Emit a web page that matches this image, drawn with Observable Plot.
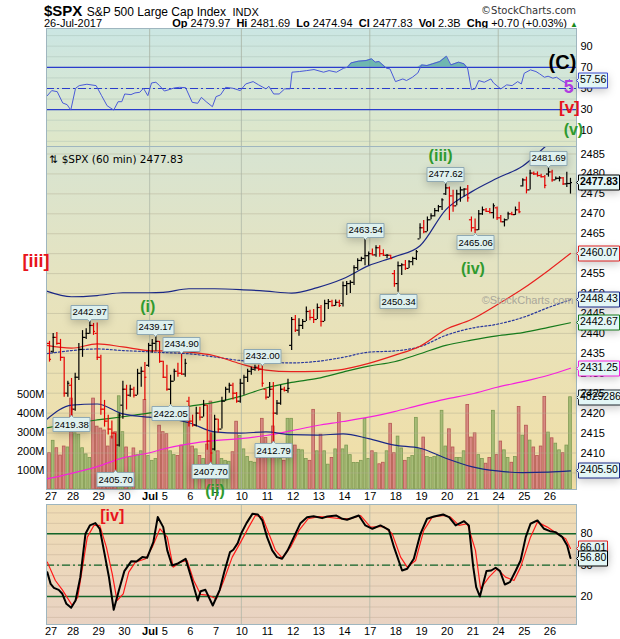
<!DOCTYPE html>
<html>
<head>
<meta charset="utf-8">
<script src="https://cdn.jsdelivr.net/npm/d3@7"></script>
<script src="https://cdn.jsdelivr.net/npm/@observablehq/plot@0.6"></script>
<style>
  html, body { margin: 0; padding: 0; background: #fff; }
  body { width: 620px; height: 639px; position: relative; overflow: hidden;
         font-family: Arial, "Liberation Sans", sans-serif; color: #000; }
  .abs { position: absolute; }
  .bg { position: absolute; left: 46px; width: 530px; }
  #hdr1 { top: 2px; left: 44px; white-space: nowrap; }
  #hdr2 { top: 17px; left: 44px; font-size: 11px; white-space: nowrap; }
  #ohlc { top: 17px; right: 42px; font-size: 11px; white-space: nowrap; }
  #brand { top: 5px; right: 44px; font-size: 10px; font-family: "DejaVu Sans", sans-serif; color: #333; }
  b { font-weight: bold; }
</style>
</head>
<body>
<div id="hdr1" class="abs"><span style="font-size:15px;font-weight:bold">$SPX</span>
  <span style="font-size:12px">S&amp;P 500 Large Cap Index</span>
  <span style="font-size:11px;margin-left:2px">INDX</span></div>
<div id="brand" class="abs">©StockCharts.com</div>
<div id="hdr2" class="abs">26-Jul-2017</div>
<div id="ohlc" class="abs"></div>

<div class="bg" style="top:28px;height:118px;background:linear-gradient(#cbe6e3,#dfe7c8)"></div>
<div class="bg" style="top:146px;height:343px;background:linear-gradient(#d7e4d2 0%,#e6e3bf 40%,#f1dea5 100%)"></div>
<div class="bg" style="top:504px;height:120px;background:linear-gradient(#efdcb4,#e9d3c3)"></div>

<div id="rsi" class="abs" style="left:0;top:28px"></div>
<div id="vol" class="abs" style="left:0;top:146px"></div>
<div id="price" class="abs" style="left:0;top:146px"></div>
<div id="sto" class="abs" style="left:0;top:504px"></div>

<script>
// ---- 60-minute bars, 27 Jun – 26 Jul 2017: [open, high, low, close]
const ohlc = [
  // Jun 27
  [2437.5,2438,2432.8,2433.5],[2435.5,2440,2435,2439],[2439,2440.2,2437,2437.5],[2437.5,2438.5,2433,2434],
  [2434,2434,2424,2425],[2425,2428,2424,2427.5],
  // Jun 28
  [2427,2428.7,2419.38,2421],[2421,2430,2420.5,2429],[2429,2437.5,2428.2,2436],[2436,2440.7,2434,2439],
  [2439,2441.2,2438.5,2440],[2440,2442.97,2439.8,2442],[2442,2442.5,2439.5,2440.5],
  // Jun 29
  [2440,2442.6,2433.2,2434],[2434,2434.5,2419.5,2421],[2421,2423.2,2416.5,2418],[2418,2419.5,2414.5,2416],
  [2416,2418,2413.5,2415],[2415,2415,2405.7,2412],[2412,2420,2411.5,2419.5],
  // Jun 30
  [2422,2428,2418.5,2426],[2426,2427,2420.8,2424.5],[2424.5,2427,2424,2426],[2426,2426.5,2423.8,2424.5],
  [2424.5,2431,2424.5,2430],[2430,2431.5,2426.5,2430.5],[2430.5,2432.7,2423.2,2429],
  // Jul 3 (half session)
  [2432,2437.5,2431.5,2437],[2437,2438.5,2435,2437.5],[2437.5,2439.17,2435.5,2438],[2438,2438,2432.5,2433],
  // Jul 5
  [2433,2433,2428.7,2429],[2429,2432,2425.5,2426],[2426,2429.5,2422.05,2428],[2428,2431,2428,2430.5],
  [2430.5,2432.5,2429,2430],[2430,2434.9,2429.5,2429.8],[2429.8,2433.5,2429,2432.5],
  // Jul 6
  [2423,2424,2416.5,2418],[2418,2419.5,2416.5,2417],[2417,2421.5,2416.5,2420],[2420,2421.5,2418,2419],
  [2419,2423.2,2419,2422],[2422,2422,2410.7,2413],[2413,2415,2407.7,2410],
  // Jul 7
  [2411,2419.5,2410.5,2418.5],[2418.5,2418.5,2415,2416],[2416,2424,2416,2423],[2423,2426.5,2423,2426],
  [2426,2427.5,2425,2427],[2427,2427.5,2423.3,2425],[2425,2425.2,2422.5,2423],
  // Jul 10
  [2423,2428.5,2422.5,2427.5],[2427.5,2429.5,2424.5,2429],[2429,2431,2427.7,2430.5],[2430.5,2431.5,2429.5,2431],
  [2431,2432,2430.5,2431.5],[2431.5,2432,2430.5,2431],[2431,2432,2426.5,2427.5],
  // Jul 11
  [2426,2426,2423.3,2424],[2424,2427.7,2424,2426],[2426,2427.7,2412.79,2420],[2420,2423.2,2419.5,2422.5],
  [2422.5,2427,2422,2426],[2426,2426.5,2425.3,2425.7],[2425.7,2428.5,2425,2426.2],
  // Jul 12
  [2437,2444,2435.7,2443.5],[2443.5,2444.5,2440.2,2440.8],[2440.8,2443.7,2439.3,2442],[2442,2443.5,2441,2443],
  [2443,2446.6,2443,2445.5],[2445.5,2445.8,2443.2,2444],[2444,2446,2442.5,2443.5],
  // Jul 13
  [2443.5,2447.4,2443.5,2446.5],[2446.5,2447,2441.6,2443],[2443,2448.3,2443,2447.5],[2447.5,2448.5,2446,2448],
  [2448,2448.3,2446.6,2447],[2447,2448.4,2446.8,2447.8],[2447.8,2448.3,2446.5,2447],
  // Jul 14
  [2447.5,2452.9,2446.6,2452],[2452,2453,2449.5,2452.5],[2452.5,2453.2,2450,2452.8],[2452.8,2457,2452,2456.5],
  [2456.5,2458.7,2455.8,2458.3],[2458.3,2459.1,2458,2458.8],[2458.8,2463.54,2457,2459.5],
  // Jul 17
  [2459.5,2460.4,2457,2460],[2460,2461.2,2459.5,2459.7],[2459.7,2462,2459.1,2461.5],[2461.5,2462,2459.1,2460],
  [2460,2461,2459.3,2459.6],[2459.6,2459.8,2458.7,2459.6],[2459.6,2459.6,2458.5,2458.8],
  // Jul 18
  [2455,2455.8,2451.6,2452.5],[2452.5,2457.9,2450.34,2457],[2457,2457.5,2454.5,2457.2],[2457.2,2458.3,2455.8,2456.3],
  [2456.3,2458.3,2456.3,2458],[2458,2459.1,2457,2458.8],[2458.8,2460.8,2458.3,2460.5],
  // Jul 19
  [2463.7,2467.5,2463.7,2466.5],[2466.5,2468.3,2465,2465.5],[2465.5,2469.2,2465.5,2468.5],[2468.5,2470,2468.5,2469.5],
  [2469.5,2471.3,2469.2,2470.8],[2470.8,2472.1,2470.4,2471.8],[2471.8,2473.8,2470.8,2473.5],
  // Jul 20
  [2475,2477.62,2474.6,2476.5],[2476.5,2476.7,2468.3,2474.5],[2474.5,2475.9,2470.4,2472],[2472,2475.9,2472,2475],
  [2475,2476.7,2472.9,2476],[2476,2476.3,2474.2,2476.2],[2476.2,2477.1,2472.9,2474],
  // Jul 21
  [2468.5,2469.2,2465.4,2466.5],[2466.5,2468.7,2465.06,2466],[2466,2470.8,2465.8,2470],[2470,2471.7,2469.6,2471],
  [2471,2471.3,2470.4,2470.6],[2470.6,2471.3,2470,2470.3],[2470.3,2472.5,2468.7,2472],
  // Jul 24
  [2471.5,2471.7,2468.3,2469],[2469,2469.6,2467.9,2468],[2468,2468.7,2466.7,2468.5],[2468.5,2470.4,2468.5,2470],
  [2470,2470.4,2469.6,2469.8],[2469.8,2471.7,2469.6,2471],[2471,2472.9,2470,2470.5],
  // Jul 25
  [2477,2478.8,2476.7,2478.5],[2478.5,2479.2,2475,2476],[2476,2480.9,2476,2480.2],[2480.2,2480.5,2479.6,2480],
  [2480,2480.5,2479.2,2479.6],[2479.6,2479.9,2479,2479.3],[2479.3,2479.6,2476.3,2477.13],
  // Jul 26
  [2479.97,2481.69,2479.2,2480.5],[2480.5,2480.9,2477.9,2478.5],[2478.5,2479.2,2478.4,2478.9],[2478.9,2479.3,2478,2479],
  [2479,2479.1,2477.1,2477.5],[2477.5,2480.4,2476.6,2477.6],[2477.6,2478.9,2474.94,2477.83]
];

// hourly volume, millions of shares
const volume = [
  190,255,216,178,225,220,
  476,294,287,216,184,165,476,
  329,319,309,225,277,300,488,
  300,220,170,215,180,200,469,
  175,150,160,334,
  300,290,200,180,175,230,407,
  370,225,210,175,160,235,460,
  300,200,160,150,145,195,355,
  280,210,170,145,140,165,370,
  270,180,330,200,160,150,370,
  370,230,208,205,160,150,417,
  200,287,200,130,165,210,400,
  210,230,180,139,139,150,370,
  160,200,190,132,140,200,344,
  190,277,215,150,165,175,375,
  210,272,170,165,170,175,412,
  225,315,220,165,165,200,443,
  272,294,180,160,135,165,412,
  180,251,205,165,140,170,432,
  282,334,256,220,175,225,484,
  298,268,240,205,190,230,482.9286
];

// session boundaries and their axis labels
const dayStart  = [0,6,13,20,27,31,38,45,52,59,66,73,80,87,94,101,108,115,122,129,136];
const dayLabels = ["27","28","29","30","Jul","5","6","7","10","11","12","13","14","17","18","19","20","21","24","25","26"];
const weekStarts = [27,52,87,122];

// overlays sampled at session opens (bar index) and the final bar
const maAt       = [-0.8,6,13,20,27,31,38,45,52,59,66,73,80,87,94,101,108,115,122,129,136,142];
const bbUpper    = [2450.6,2449.2,2449.5,2450.2,2450.2,2450.3,2451.2,2451.2,2451,2450.6,2450.1,2451.5,2453.7,2457,2459.2,2462,2471,2475.5,2478.9,2482,2487.5,2491.4];
const bbMiddle   = [2434.9,2435.7,2436.1,2435.7,2435.4,2435.2,2434.9,2434.1,2433.2,2432.8,2432.6,2433,2434,2435.3,2435.6,2436.7,2439.5,2441.3,2442.3,2444,2446.5,2448.43];
const bbLower    = [2418.4,2422,2422.3,2419.8,2419,2418.8,2417.6,2415.3,2415,2415.3,2414.6,2414.5,2414.8,2413.6,2412,2411.2,2408.7,2406.6,2405.5,2405.1,2405.2,2405.50];
const emaRed     = [2437,2436.3,2437.4,2436.6,2435.7,2435.6,2435.3,2434.4,2432.4,2430.8,2430.4,2430.5,2431,2432.5,2434.5,2436.8,2441,2443.5,2447.2,2451.2,2455.8,2460.07];
const smaGreen   = [2416.3,2417.4,2418.3,2419.1,2420,2420.6,2421.7,2422.7,2424.2,2426.3,2427.7,2428.7,2430.3,2431.8,2432.9,2434.9,2437,2438.3,2439.4,2440.2,2441.5,2442.67];
const smaMagenta = [2403.5,2404.9,2406.6,2408.8,2410,2411,2412.3,2413.1,2413.6,2414.4,2415.6,2416.9,2417.9,2419,2420.4,2422,2423.5,2424.8,2426.5,2427.9,2429.5,2431.25];

// RSI(14): [bar index, value]
const rsi = [[-0.6,43.2],[0.6,48],[2.1,47],[3.6,36.3],[4.8,34.7],[5.8,29.6],[7.1,50.2],[8.1,52.7],[10.2,54],[12.7,52.7],
  [14.2,43.2],[15.7,33.7],[17.5,29.6],[18.7,37.5],[19.7,37.5],[20.5,44.8],[22.2,44.2],[23.3,45.8],[24.6,46.4],[25.6,50.2],
  [26.8,43.2],[27.8,55.2],[29,55.9],[30,52.7],[31.3,47.6],[32.6,48.9],[34,50.5],[35.4,51.1],[37.1,50.8],[38.9,36.9],
  [40.4,36],[41.4,41.6],[42.7,37.5],[44.4,32.8],[45.4,42.3],[46.6,43.9],[48,51.1],[50,50.2],[52,48],[53.5,54.3],
  [55.5,56.5],[57,53.4],[59,49.6],[59.8,52.1],[61.1,44.8],[62.6,44.8],[64.1,49.6],[65.6,49.6],[66.1,65.4],[68.1,66],
  [70.1,66.9],[72.1,67.9],[74.7,65.4],[76.2,66.9],[78.2,65.4],[80.2,69.2],[81.2,70.1],[82.2,74.2],[84.2,75.8],[86.3,76.4],
  [87.8,78],[88.8,74.9],[89.8,75.5],[91.8,69.2],[92.8,68.5],[94.3,56.5],[96.3,59],[97.3,57.5],[98.9,60.6],[100.4,64.7],
  [101.4,72.3],[102.9,71.7],[104.4,73.3],[106.4,75.5],[108.2,80.5],[109.4,72.3],[111.5,74.9],[113,73.3],[114,68.5],[115,48.9],
  [116,49.6],[117,57.5],[118.5,55.9],[120.3,59],[121,55.3],[123,49.6],[124.6,53.4],[126.1,52.7],[127.6,56.5],[128.6,54.3],
  [129.4,64.4],[131.1,67.6],[132.6,66],[133.6,63.8],[134.9,60.6],[135.9,61.6],[137.2,59.7],[138.2,60.6],[139.5,57.5],[140.7,55.3],
  [141.7,58.4],[142,57.56]];

// Slow stochastic: %K (black) and %D (red)
const stochK = [[-0.6,43.3],[0.3,32.1],[1.2,28.3],[2.5,26.4],[3.5,22.6],[4.6,13],[5.9,9.2],[7.1,16.2],[8.4,38.5],[9.8,80],
  [11,88],[12.5,90.2],[13.7,84.8],[15,60.9],[16.2,38.5],[17.5,7.3],[18.9,25.8],[20.4,44.3],[22.3,53.8],[23.7,53.5],
  [25.3,57.7],[26.6,57],[28.3,72],[29.5,96],[31,86.4],[32.1,64.1],[33.4,49.7],[34.8,51.3],[37.1,56.1],[38.6,38.5],
  [40.4,16.2],[41.2,25.1],[42.5,26.4],[44.5,11.4],[46.4,26.4],[47.7,44.3],[49.2,62.5],[50.1,64.7],[51.3,71.1],[52.2,80],
  [53.7,90.2],[55.3,99.1],[56.8,98.5],[58,92.8],[59.3,76.8],[60.7,64.1],[62,57.7],[63.4,56.1],[64.9,64.1],[66.6,76.8],
  [68.4,90.2],[70.2,95.8],[72,96.8],[74.3,95],[75.7,96.6],[78.2,97.5],[79.8,94.4],[81.1,93.4],[84.3,97.5],[86.1,88],
  [88,84.8],[90.2,88],[92.5,83.8],[93.9,67.2],[96.1,44.9],[97.5,46.5],[99.3,56.1],[101.1,80],[102.9,94.4],[104.8,96.6],
  [107.3,98.5],[108.9,96],[110.7,88],[113,92.1],[114.3,88],[115.5,48.1],[116.3,29],[117.3,20],[119.1,44.3],[120.4,44.9],
  [121.6,47.5],[122.8,44.3],[124.1,31.5],[125.5,33.8],[127.1,44.9],[128.4,54.5],[129.8,76.8],[131.1,89.6],[133,92.8],[134.8,84.8],
  [136.4,82.5],[137.9,81.6],[139.8,76.8],[141.1,68.8],[142,56.80]];
const stochD = [[-0.6,52.9],[1.6,35.3],[3.5,26.4],[6.2,11.4],[7.7,19.4],[10.3,76.8],[12.1,88],[13.7,88],[15.5,67.2],[17.1,41.7],
  [18.4,16.2],[20.1,22.6],[21.6,43.3],[23.4,52.9],[26.2,56.1],[28,67.2],[30.1,84.8],[32.1,76.8],[33.7,48.1],[35.7,52.9],
  [37.5,54.5],[39.3,35.3],[41.2,22],[43.4,21],[45.5,17.8],[47.5,35.3],[49.8,57.7],[52.1,72],[54.3,86.4],[56.1,97.5],
  [58,96],[59.8,80],[61.6,64.1],[63.4,57],[65.7,67.2],[68,83.2],[70.5,94.4],[73.4,96.4],[75.7,96],[79.3,94.4],
  [82,94.4],[84.8,97.5],[87.5,86.4],[91.1,87],[93.4,80],[95.7,57.7],[97.5,48.1],[99.8,54.5],[102,83.2],[104.3,96],
  [107.5,97.5],[109.3,96],[111.6,88],[113.9,89.6],[116.1,64.1],[117.5,27.4],[119.8,38.5],[122,46.5],[124.3,38.5],[126.6,35.3],
  [128.4,48.1],[131.1,76.8],[133,91.2],[135.7,86.4],[138.4,80],[140.7,75.2],[142,66.01]];

// price callouts at swing highs / lows (bar index)
const swingHighs = [11,29,36,58,86,108,136];
const swingLows  = [6,18,33,44,61,95,116];

// Elliott wave labels
const waveRsi   = [{t:"(C)",i:139.8,v:74.9,c:"#000",s:20},{t:"5",i:141.5,v:51.4,c:"#b03ee0",s:18},
                   {t:"[v]",i:141.7,v:31.6,c:"#e8141c",s:17},{t:"(v)",i:142.8,v:10.8,c:"#2f9a2f",s:16}];
const wavePrice = [{t:"(i)",i:26.8,v:2446.6},{t:"(ii)",i:45.1,v:2400.6},{t:"(iii)",i:106.6,v:2484.5},{t:"(iv)",i:115.4,v:2456.2}];
const dailyVolume = "2.3B";

// ---------------------------------------------------------------------------
const FONT = "Arial, 'Liberation Sans', sans-serif";
const xDomain = [-0.82, 143.64];
const common = {width: 620, marginLeft: 46, marginRight: 44,
  style: {background: "transparent", overflow: "visible", fontFamily: FONT, fontSize: "11px", color: "#000"}};

const bars = ohlc.map(([o,h,l,c], i) => ({i, o, h, l, c,
  up: i === 0 ? c >= o : c >= ohlc[i-1][3]}));
const vols = volume.map((v, i) => ({i, v, up: bars[i].up}));
const overlay = (vals) => maAt.map((i, k) => ({i, v: vals[k]}));
const last = bars[bars.length - 1];
const priceTicks = d3.range(2405, 2486, 5);
const labelOf = new Map(dayStart.map((d, k) => [d, dayLabels[k]]));

const tagStyle = {anchor: "left", pointerSize: 4, textPadding: 1.5, fontSize: 10.5, fontFamily: FONT, fill: "#e3f6f6"};
const tag = (value, stroke, extra = {}) =>
  Plot.tip([value], {x: () => xDomain[1], y: d => d, title: d => d.toFixed(2), stroke, ...tagStyle, ...extra});
const weekRule = (extra) => Plot.ruleX(weekStarts, {x: d => d + 0.3, stroke: "#a9b3a4", strokeWidth: 1, ...extra});

// ---- RSI panel
const rsiPlot = Plot.plot({
  ...common, height: 118, marginTop: 0, marginBottom: 0,
  x: {domain: xDomain, axis: null},
  y: {domain: [-4.85, 106.7], axis: null},
  marks: [
    Plot.ruleY(d3.range(0, 101, 10), {stroke: "#9db5ad", strokeOpacity: 0.35}),
    weekRule({strokeOpacity: 0.8}),
    Plot.areaY(rsi, {x: d => d[0], y1: () => 70, y2: d => Math.max(70, d[1]), fill: "#5eaea8", fillOpacity: 0.85}),
    Plot.ruleY([70, 30], {stroke: "#2a3dcc", strokeWidth: 1.3}),
    Plot.ruleY([50], {stroke: "#2a3dcc", strokeWidth: 1.1, strokeDasharray: "8,3,2,3"}),
    Plot.line(rsi, {x: d => d[0], y: d => d[1], stroke: "#4a5ad8", strokeWidth: 1}),
    Plot.frame({stroke: "#9fb6bf"}),
    Plot.axisY([10, 30, 50, 70, 90], {anchor: "right", tickSize: 0, tickPadding: 4, label: null}),
    Plot.tip([rsi[rsi.length - 1][1]], {x: () => xDomain[1], y: d => d, title: d => d.toFixed(2), stroke: "#3a4ad0", ...tagStyle}),
    Plot.text(waveRsi, {x: "i", y: "v", text: "t", fill: "c", fontSize: d => d.s, fontWeight: "bold", fontFamily: FONT})
  ]
});
document.getElementById("rsi").append(rsiPlot);

// ---- volume (drawn underneath the price bars)
const volPlot = Plot.plot({
  ...common, height: 343, marginTop: 0, marginBottom: 0,
  x: {domain: xDomain, axis: null},
  y: {domain: [0, 1796], axis: null},
  marks: [
    Plot.rectY(vols, {x1: d => d.i - 0.37, x2: d => d.i + 0.37, y: "v",
      fill: d => d.up ? "#a7bc77" : "#d88a83", stroke: d => d.up ? "#7e9a52" : "#b45852", strokeWidth: 0.8}),
    Plot.axisY([100, 200, 300, 400, 500], {anchor: "left", tickSize: 0, tickPadding: 2, label: null, tickFormat: d => d + "M"}),
    Plot.tip([vols[vols.length - 1]], {x: () => xDomain[1], y: "v", title: d => String(Math.round(d.v * 1e4)),
      stroke: "#202830", ...tagStyle})
  ]
});
document.getElementById("vol").append(volPlot);

// ---- price panel
const callout = {pointerSize: 4, textPadding: 1.5, fontSize: 9.5, fontFamily: FONT, fill: "#def0ee", stroke: "#8fa9b3"};
const pricePlot = Plot.plot({
  ...common, height: 357, marginTop: 0, marginBottom: 14,
  x: {domain: xDomain, axis: null},
  y: {domain: [2400.85, 2486.88], axis: null},
  marks: [
    Plot.ruleY(priceTicks, {stroke: "#b2ae92", strokeOpacity: 0.45}),
    weekRule({strokeOpacity: 0.7}),
    Plot.line(overlay(smaMagenta), {x: "i", y: "v", stroke: "#f522dc", strokeWidth: 1.2, curve: "monotone-x"}),
    Plot.line(overlay(smaGreen), {x: "i", y: "v", stroke: "#167a1c", strokeWidth: 1.2, curve: "monotone-x"}),
    Plot.line(overlay(bbMiddle), {x: "i", y: "v", stroke: "#2b3a9e", strokeWidth: 1.2, strokeDasharray: "2,2", curve: "monotone-x"}),
    Plot.line(overlay(emaRed), {x: "i", y: "v", stroke: "#e8201e", strokeWidth: 1.2, curve: "monotone-x"}),
    Plot.line(overlay(bbUpper), {x: "i", y: "v", stroke: "#1b2886", strokeWidth: 1.2, curve: "monotone-x", clip: true}),
    Plot.line(overlay(bbLower), {x: "i", y: "v", stroke: "#1b2886", strokeWidth: 1.2, curve: "monotone-x"}),
    Plot.ruleX(bars, {x: "i", y1: "l", y2: "h", stroke: d => d.up ? "#000" : "#e40000", strokeWidth: 1.2}),
    Plot.ruleY(bars, {y: "o", x1: d => d.i - 0.55, x2: "i", stroke: d => d.up ? "#000" : "#e40000", strokeWidth: 1.2}),
    Plot.ruleY(bars, {y: "c", x1: "i", x2: d => d.i + 0.55, stroke: d => d.up ? "#000" : "#e40000", strokeWidth: 1.2}),
    Plot.frame({stroke: "#9fb6bf"}),
    Plot.axisY(priceTicks, {anchor: "right", tickSize: 0, tickPadding: 4, label: null, tickFormat: d => String(d)}),
    Plot.axisX(dayStart, {anchor: "bottom", tickSize: 0, tickPadding: 3, dx: 1.5, label: null, tickFormat: d => labelOf.get(d)}),
    Plot.text([`⇅ $SPX (60 min) ${last.c.toFixed(2)}`], {frameAnchor: "top-left", text: d => d, dx: 3, dy: 9,
      textAnchor: "start", fontFamily: "'DejaVu Sans', sans-serif", fontSize: 10.5}),
    Plot.text(["©StockCharts.com"], {frameAnchor: "right", y: () => 2448.3, text: d => d, dx: -3, textAnchor: "end",
      fill: "#a9a79a", fontSize: 11}),
    Plot.text(["[iii]"], {frameAnchor: "left", y: () => 2458, text: d => d, dx: -24, fill: "#e8141c", fontWeight: "bold", fontSize: 18}),
    Plot.text(wavePrice, {x: "i", y: "v", text: "t", fill: "#2f9a2f", fontWeight: "bold", fontSize: 16}),
    Plot.tip(swingHighs.map(i => bars[i]), {x: "i", y: "h", title: d => d.h.toFixed(2), anchor: "bottom", ...callout}),
    Plot.tip(swingLows.map(i => bars[i]), {x: "i", y: "l", title: d => d.l.toFixed(2), anchor: "top", ...callout}),
    tag(emaRed[emaRed.length - 1], "#e02020"),
    tag(bbMiddle[bbMiddle.length - 1], "#1b2886"),
    tag(smaGreen[smaGreen.length - 1], "#167a1c"),
    tag(smaMagenta[smaMagenta.length - 1], "#f522dc"),
    tag(bbLower[bbLower.length - 1], "#1b2886"),
    tag(last.c, "#000", {fontWeight: "bold"})
  ]
});
document.getElementById("price").append(pricePlot);

// ---- stochastic panel
const stoPlot = Plot.plot({
  ...common, height: 134, marginTop: 0, marginBottom: 14,
  x: {domain: xDomain, axis: null},
  y: {domain: [-6.79, 108.04], axis: null},
  marks: [
    Plot.ruleY(d3.range(0, 101, 10), {stroke: "#c2ab92", strokeOpacity: 0.45}),
    weekRule({strokeOpacity: 0.7}),
    Plot.ruleY([80, 20], {stroke: "#13652a", strokeWidth: 1.4}),
    Plot.ruleY([50], {stroke: "#13652a", strokeWidth: 1.2, strokeDasharray: "8,3,2,3"}),
    Plot.line(stochD, {x: d => d[0], y: d => d[1], stroke: "#ff1a1a", strokeWidth: 1.2}),
    Plot.line(stochK, {x: d => d[0], y: d => d[1], stroke: "#000", strokeWidth: 2}),
    Plot.frame({stroke: "#9fb6bf"}),
    Plot.axisY([20, 50, 80], {anchor: "right", tickSize: 0, tickPadding: 4, label: null}),
    Plot.axisX(dayStart, {anchor: "bottom", tickSize: 0, tickPadding: 3, dx: 1.5, label: null, tickFormat: d => labelOf.get(d)}),
    Plot.text(["[iv]"], {x: () => 17.1, y: () => 97, text: d => d, fill: "#e8141c", fontWeight: "bold", fontSize: 16}),
    Plot.tip([stochD[stochD.length - 1][1]], {x: () => xDomain[1], y: d => d, title: d => d.toFixed(2), stroke: "#e02020", ...tagStyle}),
    Plot.tip([stochK[stochK.length - 1][1]], {x: () => xDomain[1], y: d => d, title: d => d.toFixed(2), stroke: "#000", ...tagStyle})
  ]
});
document.getElementById("sto").append(stoPlot);

// month marker in bold
d3.selectAll("svg text").filter(function () { return this.textContent === "Jul"; }).attr("font-weight", "bold");

// ---- header quote line for the last session
const day = bars.slice(dayStart[dayStart.length - 1]);
const dOpen = day[0].o, dHigh = d3.max(day, d => d.h), dLow = d3.min(day, d => d.l), dClose = last.c;
const prevClose = bars[dayStart[dayStart.length - 1] - 1].c;
const chg = dClose - prevClose;
document.getElementById("ohlc").innerHTML =
  `<b>Op</b> ${dOpen.toFixed(2)}&nbsp; <b>Hi</b> ${dHigh.toFixed(2)}&nbsp; <b>Lo</b> ${dLow.toFixed(2)}&nbsp; ` +
  `<b>Cl</b> ${dClose.toFixed(2)}&nbsp; <b>Vol</b> ${dailyVolume}&nbsp; <b>Chg</b> ${chg >= 0 ? "+" : ""}${chg.toFixed(2)} ` +
  `(${chg >= 0 ? "+" : ""}${(chg / prevClose * 100).toFixed(2)}%) <span style="color:#1a8a1a;font-size:8px">▲</span>`;
</script>
</body>
</html>
